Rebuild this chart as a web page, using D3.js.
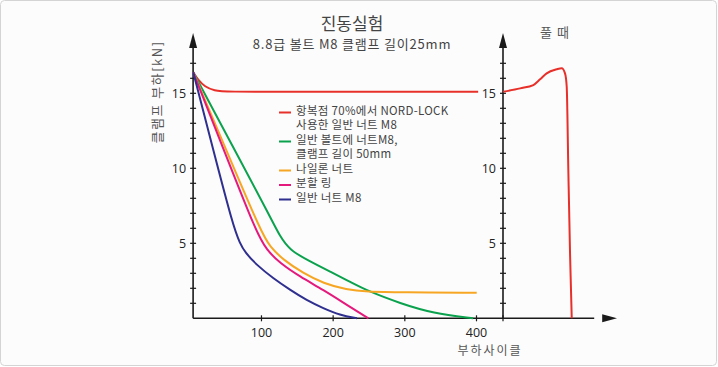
<!DOCTYPE html>
<html>
<head>
<meta charset="utf-8">
<script src="https://cdn.jsdelivr.net/npm/d3@7"></script>
<style>
  body { margin: 0; background: #fff; }
  text { font-family: "Noto Sans CJK KR", "Noto Sans", sans-serif; }
</style>
</head>
<body>
<svg width="718" height="367"></svg>
<script>
// load cycles vs clamp load [kN]
const nordLock = [[5.5,16.4],[12,15.9],[21.5,15.44],[35.4,15.17],[49.4,15.1],[150,15.1],[300,15.1],[403,15.1]];
const plainBolt50 = [[5.5,16.4],[59,11.6],[112.6,6.8],[126.6,5.44],[140.5,4.55],[163.8,3.9],[201,3.0],[224,2.44],[250,1.8],[294,1.0],[340,0.33],[396,0]];
const nylonNut = [[5.5,16.4],[53,11.06],[101,5.67],[112.6,4.77],[131,3.9],[159,3.0],[187,2.33],[219.6,1.9],[247.5,1.77],[294,1.73],[401,1.7]];
const splitRing = [[5.5,16.4],[50,11.0],[94,5.67],[108,4.55],[126.6,3.67],[154.5,2.77],[187,1.9],[219.6,0.9],[250,0]];
const plainNut = [[5.5,16.4],[33,11.3],[61.4,6.1],[70.7,5.0],[77.7,4.4],[94,3.55],[117,2.67],[140.5,1.9],[163.8,1.2],[187,0.67],[210,0.22],[234,0]];
// loosening panel, x in arbitrary units
const loosening = [[0.3,15.1],[15,15.33],[26.6,15.55],[32.5,15.93],[38.3,16.33],[47.1,16.6],[51.5,16.67],[54.4,16.33],[55.9,15.44],[57.3,9.9],[58.8,4.33],[60.3,0]];

const xTicks = [100, 200, 300, 400];
const yLabels = [5, 10, 15];
const yMinor = d3.range(1, 18);

const legendLabels = [
    ["항복점 70%에서 NORD-LOCK", "사용한 일반 너트 M8"],
    ["일반 볼트에 너트M8,", "클램프 길이 50mm"],
    ["나일론 너트"],
    ["분할 링"],
    ["일반 너트 M8"]
];
const colors = ["#e8302a", "#0ba24e", "#f6a623", "#e5197c", "#2e2f8f"];
const series = [nordLock, plainBolt50, nylonNut, splitRing, plainNut];

const svg = d3.select("svg");

svg.append("rect")
    .attr("x", 0.5).attr("y", 0.5)
    .attr("width", 716).attr("height", 365)
    .attr("rx", 4)
    .attr("fill", "#fcfcfc")
    .attr("stroke", "#d4d4d4");

var x = d3.scaleLinear().domain([0, 400]).range([189.3, 476]);
var y = d3.scaleLinear().domain([0, 17]).range([318.3, 63.3]);
var xr = d3.scaleLinear().domain([0, 100]).range([503, 617]);

const axisColor = "#1a1a1a";
const leftX = x(5.3);
const rightX = xr(0);
const base = y(0);

// axis lines
var axes = svg.append("g").attr("class", "axes")
    .attr("stroke", axisColor).attr("stroke-width", 1.6).attr("fill", "none");
axes.append("line").attr("x1", leftX).attr("x2", leftX).attr("y1", base).attr("y2", 45);
axes.append("line").attr("x1", rightX).attr("x2", rightX).attr("y1", base).attr("y2", 45);
axes.append("line").attr("x1", leftX).attr("x2", xr(80)).attr("y1", base).attr("y2", base);

// arrow heads
var heads = svg.append("g").attr("fill", axisColor);
[leftX, rightX].forEach(cx => {
    heads.append("path").attr("d", `M${cx},33 L${cx - 4},48 L${cx + 4},48 Z`);
});
heads.append("path").attr("d", `M${xr(100)},${base} L${xr(87)},${base - 4} L${xr(87)},${base + 4} Z`);

// minor ticks on both y axes
[leftX, rightX].forEach(cx => {
    svg.append("g")
        .selectAll("line")
        .data(yMinor)
        .enter()
        .append("line")
        .attr("x1", cx - 3).attr("x2", cx + 3)
        .attr("y1", d => y(d)).attr("y2", d => y(d))
        .attr("stroke", axisColor).attr("stroke-width", 1.2);
});

// y tick labels
[leftX, rightX].forEach(cx => {
    var g = svg.append("g")
        .attr("transform", `translate(${cx},0)`)
        .call(d3.axisLeft(y).tickValues(yLabels).tickSize(0).tickPadding(7));
    g.select(".domain").remove();
    g.selectAll("text").attr("font-size", 12.5).attr("fill", "#222")
        .style("font-family", "'Open Sans', 'Noto Sans', sans-serif");
});

// x axis ticks + labels
var gx = svg.append("g")
    .attr("transform", `translate(0,${base})`)
    .call(d3.axisBottom(x).tickValues(xTicks).tickSize(3).tickPadding(7));
gx.select(".domain").remove();
gx.selectAll("line").attr("stroke", axisColor).attr("y1", -3).attr("stroke-width", 1.2);
gx.selectAll("text").attr("font-size", 12.5).attr("fill", "#222")
    .style("font-family", "'Open Sans', 'Noto Sans', sans-serif");
svg.append("line")
    .attr("x1", rightX).attr("x2", rightX)
    .attr("y1", base - 3).attr("y2", base + 3)
    .attr("stroke", axisColor).attr("stroke-width", 1.2);

// curves
var line = d3.line()
    .x(d => x(d[0]))
    .y(d => y(d[1]))
    .curve(d3.curveBasis);

svg.append("g")
    .attr("class", "curves")
    .selectAll("path")
    .data(series)
    .enter()
    .append("path")
    .attr("d", line)
    .attr("fill", "none")
    .attr("stroke", (d, i) => colors[i])
    .attr("stroke-width", 2);

var lineR = d3.line()
    .x(d => xr(d[0]))
    .y(d => y(d[1]))
    .curve(d3.curveMonotoneX);

svg.append("path")
    .datum(loosening)
    .attr("d", lineR)
    .attr("fill", "none")
    .attr("stroke", colors[0])
    .attr("stroke-width", 2);

// legend
var legend = svg.append("g").attr("class", "legend");
var rowY = 114.5;
legendLabels.forEach((lines, i) => {
    legend.append("line")
        .attr("x1", 279).attr("x2", 291)
        .attr("y1", rowY - 2).attr("y2", rowY - 2)
        .attr("stroke", colors[i]).attr("stroke-width", 2);
    lines.forEach((t, j) => {
        legend.append("text")
            .attr("x", 296)
            .attr("y", rowY + j * 14.5)
            .attr("font-size", 11.5)
            .attr("letter-spacing", 0.3)
            .attr("fill", "#444")
            .text(t);
    });
    rowY += lines.length * 14.5;
});

// titles
svg.append("text")
    .attr("x", 352).attr("y", 30)
    .attr("text-anchor", "middle")
    .attr("font-size", 17)
    .attr("fill", "#444")
    .text("진동실험");

svg.append("text")
    .attr("x", 352).attr("y", 48.5)
    .attr("text-anchor", "middle")
    .attr("font-size", 13)
    .attr("letter-spacing", 0.8)
    .attr("fill", "#444")
    .text("8.8급 볼트 M8 클램프 길이25mm");

svg.append("text")
    .attr("x", 555).attr("y", 37)
    .attr("text-anchor", "middle")
    .attr("font-size", 13)
    .attr("letter-spacing", 1)
    .attr("fill", "#555")
    .text("풀 때");

svg.append("text")
    .attr("transform", "translate(162,92) rotate(-90)")
    .attr("text-anchor", "middle")
    .attr("font-size", 13)
    .attr("letter-spacing", 1.5)
    .attr("fill", "#555")
    .text("클램프 부하[kN]");

svg.append("text")
    .attr("x", 490).attr("y", 355)
    .attr("text-anchor", "middle")
    .attr("font-size", 12)
    .attr("letter-spacing", 2)
    .attr("fill", "#555")
    .text("부하사이클");
</script>
</body>
</html>
